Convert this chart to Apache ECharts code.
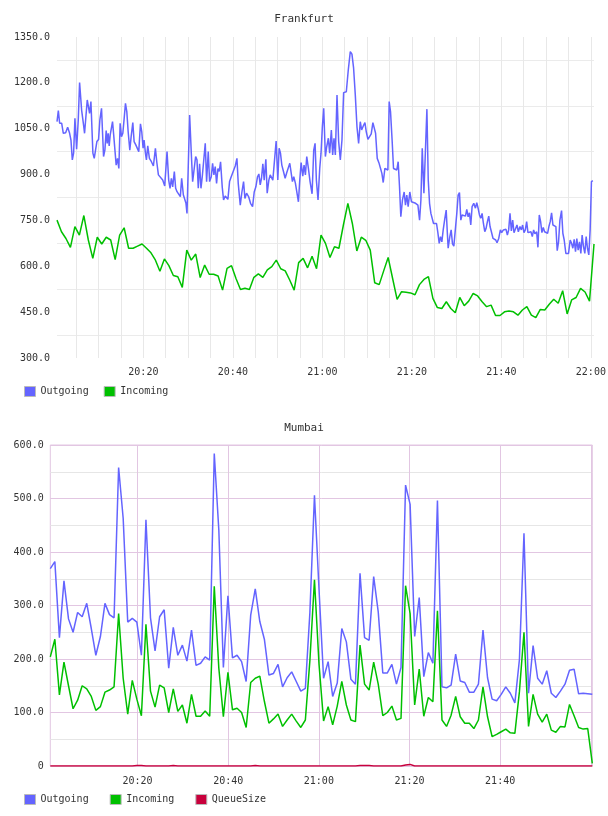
<!DOCTYPE html>
<html>
<head>
<meta charset="utf-8">
<title>Frankfurt / Mumbai</title>
<script src="https://cdn.jsdelivr.net/npm/echarts@6/dist/echarts.min.js"></script>
<style>
html, body { margin: 0; padding: 0; background: #fff; }
#chart { width: 608px; height: 816px; }
</style>
</head>
<body>
<div id="chart"></div>
<script>
// all times are minutes after 20:00
var frankOutTime = [
	0.70, 1.00, 1.29, 1.74, 2.11, 2.63, 3.08, 3.52, 3.82, 4.12, 4.41, 4.71, 5.08, 5.45, 5.75, 6.20, 6.64, 6.86, 7.16, 7.46,
	7.76, 7.98, 8.28, 8.50, 8.72, 9.02, 9.32, 9.61, 9.99, 10.28, 10.65, 11.10, 11.40, 11.69, 11.92, 12.14, 12.36, 12.59, 12.88, 13.11,
	13.40, 13.70, 13.92, 14.22, 14.52, 14.81, 15.11, 15.41, 15.71, 16.00, 16.30, 16.60, 16.97, 17.27, 17.64, 17.93, 18.31, 18.68, 18.97, 19.35,
	19.64, 19.94, 20.16, 20.46, 20.68, 20.98, 21.35, 21.80, 22.24, 22.69, 22.99, 23.36, 23.80, 24.32, 24.77, 25.29, 25.66, 25.96, 26.26, 26.55,
	26.92, 27.22, 27.52, 27.89, 28.26, 28.56, 28.93, 29.23, 29.52, 29.75, 30.34, 30.71, 31.01, 31.38, 31.68, 31.98, 32.27, 32.57, 32.87, 33.16,
	33.46, 33.83, 34.13, 34.50, 34.80, 35.17, 35.47, 35.76, 36.06, 36.36, 36.66, 36.95, 37.25, 37.62, 37.92, 38.29, 38.59, 38.89, 39.26, 39.63,
	40.00, 40.53, 40.91, 41.20, 41.65, 42.02, 42.39, 42.69, 43.06, 43.51, 43.95, 44.40, 44.77, 45.14, 45.51, 45.81, 46.11, 46.40, 46.70, 47.00,
	47.37, 47.67, 48.04, 48.34, 48.63, 48.93, 49.23, 49.67, 50.04, 50.34, 50.64, 50.94, 51.31, 51.68, 52.05, 52.42, 52.72, 53.02, 53.31, 53.61,
	53.98, 54.28, 54.65, 54.95, 55.25, 55.62, 55.91, 56.21, 56.51, 56.88, 57.25, 57.70, 58.07, 58.37, 58.66, 59.03, 59.41, 59.70, 60.00, 60.30,
	60.67, 60.97, 61.34, 61.63, 62.01, 62.30, 62.60, 62.90, 63.27, 63.64, 64.01, 64.38, 64.75, 65.05, 65.35, 65.79, 66.24, 66.61, 66.98, 67.36,
	67.73, 68.10, 68.47, 68.77, 69.14, 69.51, 69.81, 70.18, 70.55, 70.92, 71.29, 71.59, 71.89, 72.26, 72.63, 73.00, 73.30, 73.60, 73.97, 74.34,
	74.64, 74.93, 75.23, 75.60, 75.90, 76.27, 76.64, 76.94, 77.24, 77.53, 77.90, 78.28, 78.57, 78.87, 79.17, 79.54, 79.91, 80.28, 80.83, 81.35,
	81.72, 82.02, 82.32, 82.69, 83.06, 83.36, 83.66, 83.95, 84.25, 84.55, 84.84, 85.14, 85.51, 85.81, 86.11, 86.40, 86.70, 87.00, 87.37, 87.67,
	87.89, 88.11, 88.48, 88.78, 89.08, 89.38, 89.67, 90.04, 90.34, 90.64, 90.94, 91.23, 91.60, 91.98, 92.27, 92.57, 92.87, 93.16, 93.46, 93.83,
	94.21, 94.50, 94.80, 95.10, 95.39, 95.69, 95.99, 96.29, 96.58, 96.88, 97.18, 97.47, 97.77, 98.14, 98.44, 98.74, 99.03, 99.41, 99.78, 100.07,
	100.45, 100.74, 101.04, 101.34, 101.63, 101.93, 102.23, 102.53, 102.82, 103.12, 103.49, 103.79, 104.16, 104.46, 104.75, 105.05, 105.35, 105.65, 105.94, 106.32,
	106.61, 106.91, 107.21, 107.50, 107.88, 108.17, 108.47, 108.77, 109.06, 109.36, 109.66, 110.03, 110.33, 110.62, 110.92, 111.22, 111.52, 111.89, 112.18, 112.48,
	112.78, 113.08, 113.45, 113.74, 114.04, 114.41, 114.71, 115.01, 115.38, 115.68, 115.97, 116.27, 116.57, 116.86, 117.16, 117.46, 117.76, 118.05, 118.35, 118.65,
	118.95, 119.24, 119.54, 119.84, 120.13, 120.43
];
var frankOutValue = [
	1073, 1109, 1068, 1068, 1035, 1037, 1055, 1035, 1013, 948, 970, 1084, 983, 1079, 1201, 1111, 1062, 1035, 1090, 1144,
	1144, 1100, 1139, 1139, 970, 953, 956, 1008, 1015, 1079, 1117, 959, 980, 1044, 1002, 1035, 994, 1030, 1024, 1073,
	1024, 1022, 931, 953, 920, 1068, 1024, 1035, 1084, 1133, 1106, 1040, 980, 1024, 1070, 1008, 997, 991, 975, 1066,
	1040, 986, 1013, 970, 948, 994, 953, 942, 928, 986, 942, 899, 895, 882, 863, 975, 882, 855, 888, 860,
	910, 855, 844, 849, 828, 888, 834, 839, 806, 773, 1095, 970, 877, 882, 959, 948, 855, 935, 855, 893,
	893, 1002, 877, 975, 877, 893, 937, 899, 926, 871, 920, 910, 942, 860, 817, 830, 830, 819, 877, 893,
	899, 928, 953, 871, 800, 843, 877, 822, 839, 828, 806, 795, 843, 860, 893, 902, 866, 888, 935, 882,
	950, 839, 882, 899, 893, 882, 877, 1010, 882, 986, 970, 931, 910, 888, 907, 910, 937, 935, 877, 893,
	871, 874, 811, 882, 939, 895, 931, 899, 959, 920, 877, 837, 980, 1002, 882, 817, 920, 970, 1057, 1117,
	959, 991, 1019, 970, 1046, 964, 1019, 964, 1160, 1008, 948, 1013, 1168, 1166, 1171, 1242, 1302, 1294, 1248, 1160,
	1057, 1002, 1073, 1046, 1059, 1070, 1040, 1015, 1024, 1033, 1070, 1064, 1035, 953, 939, 920, 904, 874, 920, 926,
	915, 1139, 1106, 1008, 920, 926, 915, 942, 860, 762, 817, 843, 800, 833, 795, 843, 811, 817, 806, 800,
	751, 817, 986, 839, 833, 1114, 882, 806, 773, 768, 740, 746, 740, 710, 675, 697, 680, 719, 757, 784,
	719, 659, 697, 719, 673, 666, 664, 773, 833, 841, 751, 768, 762, 764, 786, 762, 775, 735, 795, 806,
	790, 808, 790, 768, 757, 773, 740, 713, 724, 746, 764, 730, 713, 691, 688, 686, 677, 691, 719, 710,
	719, 714, 721, 702, 719, 773, 716, 751, 710, 721, 735, 713, 730, 719, 735, 710, 719, 746, 710, 708,
	713, 697, 719, 706, 713, 662, 768, 746, 710, 727, 713, 719, 708, 730, 746, 775, 735, 730, 730, 651,
	680, 751, 782, 708, 686, 642, 648, 642, 686, 675, 659, 688, 648, 691, 653, 680, 642, 702, 664, 642,
	697, 659, 637, 719, 877, 880
];

// Frankfurt incoming: one sample a minute from 20:00:42
var frankInStart = 0.7;
var frankInStep = 1;
var frankInValue = [
	751, 713, 691, 662, 730, 702, 766, 686, 626, 695, 673, 695, 686, 622, 702, 726, 659, 659, 666, 673,
	659, 644, 620, 584, 624, 602, 570, 566, 531, 653, 620, 640, 563, 604, 574, 574, 568, 522, 593, 602,
	560, 524, 528, 524, 564, 575, 564, 588, 599, 620, 592, 585, 555, 522, 612, 626, 595, 633, 592, 702,
	675, 629, 664, 659, 735, 806, 740, 650, 695, 685, 653, 546, 540, 585, 629, 560, 492, 517, 515, 513,
	507, 540, 557, 566, 495, 465, 462, 484, 462, 448, 498, 471, 486, 511, 503, 484, 468, 473, 439, 439,
	451, 454, 451, 440, 457, 468, 440, 432, 459, 457, 476, 492, 479, 520, 444, 490, 498, 528, 516, 486,
	673
];

// Mumbai: one sample about every minute from 20:00:44
var mumStart = 0.74;
var mumStep = 1.005;
var mumOut = [
	369, 382, 240, 346, 275, 250, 287, 279, 304, 257, 207, 242, 304, 283, 277, 558, 463, 269, 276, 269,
	207, 460, 277, 215, 279, 292, 183, 259, 207, 226, 196, 254, 188, 192, 204, 198, 584, 441, 184, 318,
	202, 207, 195, 158, 282, 331, 270, 237, 170, 173, 190, 148, 165, 176, 158, 140, 145, 288, 506, 330,
	164, 195, 130, 155, 257, 232, 162, 153, 360, 240, 235, 354, 288, 174, 174, 190, 153, 184, 525, 489,
	242, 315, 167, 212, 192, 496, 148, 146, 151, 209, 159, 156, 138, 138, 153, 254, 165, 125, 122, 134,
	148, 136, 118, 199, 435, 136, 225, 164, 153, 178, 136, 128, 140, 153, 179, 181, 135, 136, 135, 134
];
var mumIn = [
	204, 237, 133, 194, 150, 107, 123, 150, 144, 130, 104, 111, 138, 142, 148, 285, 164, 97, 160, 125,
	94, 265, 140, 110, 151, 146, 100, 144, 102, 114, 80, 134, 93, 93, 103, 93, 336, 183, 92, 175,
	105, 108, 100, 72, 156, 164, 168, 121, 80, 88, 97, 74, 86, 97, 84, 72, 86, 198, 348, 190,
	84, 111, 77, 112, 158, 114, 86, 83, 226, 153, 142, 194, 153, 94, 100, 112, 86, 89, 337, 285,
	114, 181, 93, 128, 120, 290, 86, 74, 95, 130, 92, 80, 80, 70, 86, 148, 92, 55, 59, 64,
	69, 62, 61, 139, 250, 74, 134, 97, 82, 97, 67, 63, 74, 73, 115, 94, 72, 69, 70, 5
];
var mumQueue = [
	0, 0, 0, 0, 0, 0, 0, 0, 0, 0, 0, 0, 0, 0, 0, 0, 0, 0, 0, 1,
	1, 0, 0, 0, 0, 0, 0, 1, 0, 0, 0, 0, 0, 0, 0, 0, 0, 0, 0, 0,
	0, 0, 0, 0, 0, 1, 0, 0, 0, 0, 0, 0, 0, 0, 0, 0, 0, 0, 0, 0,
	0, 0, 0, 0, 0, 0, 0, 0, 1, 1, 1, 0, 0, 0, 0, 0, 0, 0, 2, 3,
	0, 0, 0, 0, 0, 0, 0, 0, 0, 0, 0, 0, 0, 0, 0, 0, 0, 0, 0, 0,
	0, 0, 0, 0, 0, 0, 0, 0, 0, 0, 0, 0, 0, 0, 0, 0, 0, 0, 0, 0
];

// labelled times on the x axes
var frankLabelTimes = [20, 40, 60, 80, 100, 120];
var mumLabelTimes = [20, 40, 60, 80, 100];

var MONO = '"DejaVu Sans Mono", "Liberation Mono", monospace';
var BLUE = '#6464ff', GREEN = '#00c000', RED = '#c8003c';

function pairs(times, values) {
	var res = [];
	for (var i = 0; i < values.length; i++) {
		res.push([times[i], values[i]]);
	}
	return res;
}

function regular(start, step, values) {
	var res = [];
	for (var i = 0; i < values.length; i++) {
		res.push([start + i * step, values[i]]);
	}
	return res;
}

function clock(m) {
	var h = 20 + Math.floor(m / 60);
	var mm = Math.round(m % 60);
	return h + ':' + (mm < 10 ? '0' : '') + mm;
}

function timeLabel(list) {
	return function(v) {
		var r = Math.round(v);
		if (Math.abs(v - r) < 1e-6 && list.indexOf(r) >= 0) {
			return clock(r);
		}
		return '';
	};
}

function line(name, color, data, xi, yi) {
	return {
		name : name,
		type : 'line',
		xAxisIndex : xi,
		yAxisIndex : yi,
		data : data,
		showSymbol : false,
		symbol : 'none',
		color : color,
		lineStyle : { color : color, width : 1.5 },
		emphasis : { disabled : true },
		animation : false
	};
}

var labelText = { fontFamily : MONO, fontSize : 10, color : '#333' };

var chart = echarts.init(document.getElementById('chart'));
var option = {
	animation : false,
	backgroundColor : '#fff',
	title : [ {
		text : 'Frankfurt',
		left : 'center',
		top : 14,
		padding : 0,
		textStyle : { fontFamily : MONO, fontSize : 11, fontWeight : 'normal', color : '#333' }
	}, {
		text : 'Mumbai',
		left : 'center',
		top : 423,
		padding : 0,
		textStyle : { fontFamily : MONO, fontSize : 11, fontWeight : 'normal', color : '#333' }
	} ],
	legend : [ {
		data : [ 'Outgoing', 'Incoming' ],
		left : 24,
		top : 386,
		padding : 0,
		icon : 'rect',
		itemWidth : 11,
		itemHeight : 10,
		itemGap : 15,
		selectedMode : false,
		itemStyle : { borderColor : '#bbb', borderWidth : 1 },
		textStyle : labelText
	}, {
		data : [ 'Outgoing', 'Incoming', 'QueueSize' ],
		left : 24,
		top : 794,
		padding : 0,
		icon : 'rect',
		itemWidth : 11,
		itemHeight : 10,
		itemGap : 21,
		selectedMode : false,
		itemStyle : { borderColor : '#bbb', borderWidth : 1 },
		textStyle : labelText
	} ],
	grid : [ {
		left : 57,
		top : 37,
		width : 537,
		height : 321,
		outerBoundsMode : 'none'
	}, {
		left : 50.3,
		top : 445,
		width : 542,
		height : 321,
		show : true,
		borderColor : '#e2c6e2',
		borderWidth : 1,
		outerBoundsMode : 'none'
	} ],
	xAxis : [ {
		// Frankfurt: a line every 5 minutes
		gridIndex : 0,
		type : 'value',
		position : 'bottom',
		min : 'dataMin',
		max : 'dataMax',
		minInterval : 5,
		maxInterval : 5,
		axisLine : { show : false, onZero : false },
		axisTick : { show : false },
		axisLabel : {
			formatter : timeLabel(frankLabelTimes),
			margin : 9,
			showMinLabel : false,
			showMaxLabel : false,
			fontFamily : MONO,
			fontSize : 10,
			color : '#333'
		},
		splitLine : {
			show : true,
			showMinLine : false,
			showMaxLine : false,
			lineStyle : { color : '#e8e8e8', width : 1 }
		}
	}, {
		// Mumbai: light lines every 5 minutes
		gridIndex : 1,
		type : 'value',
		position : 'bottom',
		min : 'dataMin',
		max : 'dataMax',
		minInterval : 5,
		maxInterval : 5,
		axisLine : { show : false, onZero : false },
		axisTick : { show : false },
		axisLabel : { show : false },
		splitLine : {
			show : true,
			showMinLine : false,
			showMaxLine : false,
			lineStyle : { color : '#e6e6e6', width : 1 }
		}
	}, {
		// Mumbai: coloured lines and labels every 20 minutes
		gridIndex : 1,
		type : 'value',
		position : 'bottom',
		min : 'dataMin',
		max : 'dataMax',
		minInterval : 20,
		maxInterval : 20,
		axisLine : { show : false, onZero : false },
		axisTick : { show : false },
		axisLabel : {
			formatter : timeLabel(mumLabelTimes),
			margin : 10,
			showMinLabel : false,
			showMaxLabel : false,
			fontFamily : MONO,
			fontSize : 10,
			color : '#333'
		},
		splitLine : {
			show : true,
			showMinLine : false,
			showMaxLine : false,
			lineStyle : { color : '#e2c6e2', width : 1 }
		}
	} ],
	yAxis : [ {
		gridIndex : 0,
		type : 'value',
		min : 300,
		max : 1350,
		interval : 150,
		axisLine : { show : false },
		axisTick : { show : false },
		axisLabel : {
			formatter : function(v) { return v.toFixed(1); },
			margin : 7,
			fontFamily : MONO,
			fontSize : 10,
			color : '#333'
		},
		splitLine : { show : false },
		minorTick : { show : false, splitNumber : 2 },
		minorSplitLine : { show : true, lineStyle : { color : '#ebebeb', width : 1 } }
	}, {
		gridIndex : 1,
		type : 'value',
		min : 0,
		max : 600,
		interval : 100,
		axisLine : { show : false },
		axisTick : { show : false },
		axisLabel : {
			formatter : function(v) { return v === 0 ? '0' : v.toFixed(1); },
			margin : 6.6,
			fontFamily : MONO,
			fontSize : 10,
			color : '#333'
		},
		splitLine : { show : true, lineStyle : { color : '#e2c6e2', width : 1 } },
		minorTick : { show : false, splitNumber : 2 },
		minorSplitLine : { show : true, lineStyle : { color : '#e6e6e6', width : 1 } }
	} ],
	series : [
		line('Outgoing', BLUE, pairs(frankOutTime, frankOutValue), 0, 0),
		line('Incoming', GREEN, regular(frankInStart, frankInStep, frankInValue), 0, 0),
		line('Outgoing', BLUE, regular(mumStart, mumStep, mumOut), 2, 1),
		line('Incoming', GREEN, regular(mumStart, mumStep, mumIn), 2, 1),
		line('QueueSize', RED, regular(mumStart, mumStep, mumQueue), 2, 1)
	]
};
chart.setOption(option, true);
</script>
</body>
</html>
